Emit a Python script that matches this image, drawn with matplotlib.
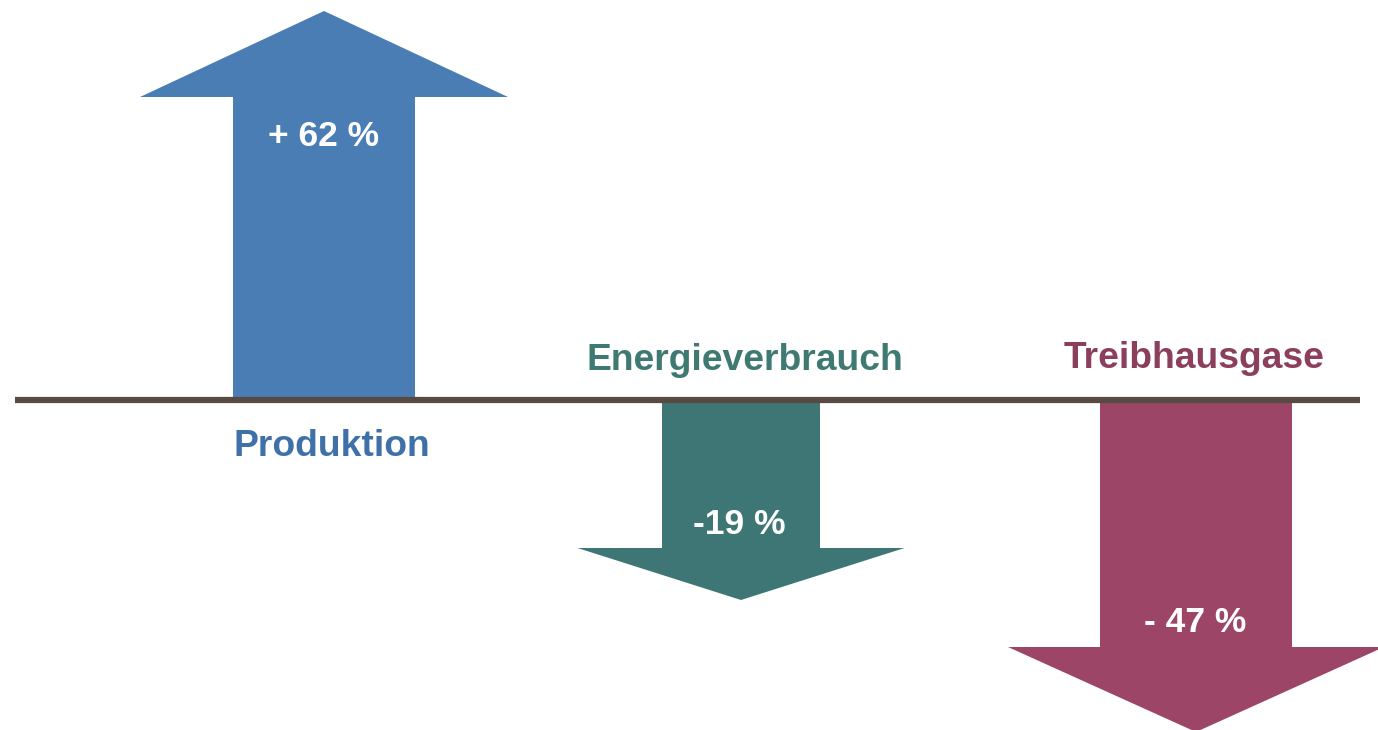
"""
Produktion vs. Energieverbrauch vs. Treibhausgase - arrow chart
"""

import matplotlib.pyplot as plt
from matplotlib import font_manager
from matplotlib.patches import FancyArrow

# values shown in the chart
categories = ['Produktion', 'Energieverbrauch', 'Treibhausgase']
value_labels = ['+ 62 %', '-19 %', '- 47 %']
# drawn arrow length from the baseline (arrows are not to scale in the original)
arrow_length = [389, -200, -332]

# layout (pixel units, baseline at y = 0)
centers_x = [324, 741, 1196]
shaft_w = [182, 158, 192]
head_w = [368, 327, 376]
head_len = [86, 52, 85]
value_label_x = [323, 739, 1195]
value_label_y = [263, -125, -222]
cat_label_x = [332, 745, 1194]
cat_label_y = [-47, 39, 41]

arrow_colors = ['#4a7db4', '#3e7676', '#9c4566']
text_colors = ['#3f70a8', '#3f7a72', '#8c3f5d']
line_color = '#574a42'

# regular-width Liberation Sans Bold
bold_file = None
for f in font_manager.fontManager.ttflist:
    if f.name == 'Liberation Sans' and f.weight in (700, 'bold') and f.style == 'normal':
        bold_file = f.fname
        break
if bold_file:
    bold_font = font_manager.FontProperties(fname=bold_file)
else:
    bold_font = font_manager.FontProperties(family='DejaVu Sans', weight='bold')

fig = plt.figure(figsize=(13.78, 7.30), dpi=100)
ax = fig.add_axes([0, 0, 1, 1])
ax.set_xlim(0, 1378)
ax.set_ylim(-330, 400)
ax.axis('off')

for i, cat in enumerate(categories):
    arr = FancyArrow(centers_x[i], 0, 0, arrow_length[i],
                     width=shaft_w[i], head_width=head_w[i], head_length=head_len[i],
                     length_includes_head=True, color=arrow_colors[i], linewidth=0, zorder=2)
    ax.add_patch(arr)
    ax.text(value_label_x[i], value_label_y[i], value_labels[i], color='white',
            fontproperties=bold_font, fontsize=25.5, ha='center', va='center', zorder=4)
    ax.text(cat_label_x[i], cat_label_y[i], cat, color=text_colors[i],
            fontproperties=bold_font, fontsize=26.8, ha='center', va='center', zorder=4)

# baseline
ax.plot([15, 1360], [0, 0], color=line_color, linewidth=4.5, solid_capstyle='butt', zorder=3)

plt.savefig('out.png', dpi=100, facecolor='white')
plt.close()
